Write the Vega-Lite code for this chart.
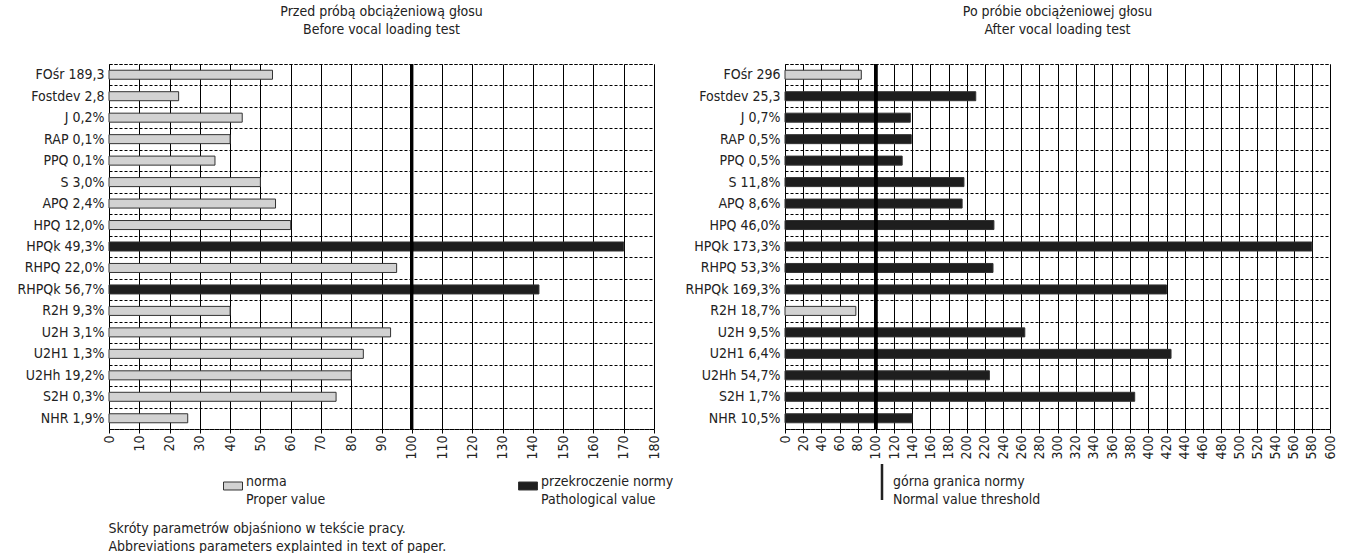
{
  "$schema": "https://vega.github.io/schema/vega-lite/v6.json",
  "background": "white",
  "padding": {"left": 16, "top": 4, "right": 5, "bottom": 5},
  "datasets": {
    "before": [
      {"param": "FOśr 189,3", "value": 54, "status": "norma"},
      {"param": "Fostdev 2,8", "value": 23, "status": "norma"},
      {"param": "J 0,2%", "value": 44, "status": "norma"},
      {"param": "RAP 0,1%", "value": 40, "status": "norma"},
      {"param": "PPQ 0,1%", "value": 35, "status": "norma"},
      {"param": "S 3,0%", "value": 50, "status": "norma"},
      {"param": "APQ 2,4%", "value": 55, "status": "norma"},
      {"param": "HPQ 12,0%", "value": 60, "status": "norma"},
      {"param": "HPQk 49,3%", "value": 170, "status": "przekroczenie normy"},
      {"param": "RHPQ 22,0%", "value": 95, "status": "norma"},
      {"param": "RHPQk 56,7%", "value": 142, "status": "przekroczenie normy"},
      {"param": "R2H 9,3%", "value": 40, "status": "norma"},
      {"param": "U2H 3,1%", "value": 93, "status": "norma"},
      {"param": "U2H1 1,3%", "value": 84, "status": "norma"},
      {"param": "U2Hh 19,2%", "value": 80, "status": "norma"},
      {"param": "S2H 0,3%", "value": 75, "status": "norma"},
      {"param": "NHR 1,9%", "value": 26, "status": "norma"}
    ],
    "after": [
      {"param": "FOśr 296", "value": 84, "status": "norma"},
      {"param": "Fostdev 25,3", "value": 210, "status": "przekroczenie normy"},
      {"param": "J 0,7%", "value": 138, "status": "przekroczenie normy"},
      {"param": "RAP 0,5%", "value": 139, "status": "przekroczenie normy"},
      {"param": "PPQ 0,5%", "value": 129, "status": "przekroczenie normy"},
      {"param": "S 11,8%", "value": 197, "status": "przekroczenie normy"},
      {"param": "APQ 8,6%", "value": 195, "status": "przekroczenie normy"},
      {"param": "HPQ 46,0%", "value": 230, "status": "przekroczenie normy"},
      {"param": "HPQk 173,3%", "value": 580, "status": "przekroczenie normy"},
      {"param": "RHPQ 53,3%", "value": 229, "status": "przekroczenie normy"},
      {"param": "RHPQk 169,3%", "value": 420, "status": "przekroczenie normy"},
      {"param": "R2H 18,7%", "value": 78, "status": "norma"},
      {"param": "U2H 9,5%", "value": 264, "status": "przekroczenie normy"},
      {"param": "U2H1 6,4%", "value": 425, "status": "przekroczenie normy"},
      {"param": "U2Hh 54,7%", "value": 225, "status": "przekroczenie normy"},
      {"param": "S2H 1,7%", "value": 385, "status": "przekroczenie normy"},
      {"param": "NHR 10,5%", "value": 140, "status": "przekroczenie normy"}
    ]
  },
  "config": {
    "font": "DejaVu Sans Condensed, Liberation Sans Narrow, Roboto",
    "view": {"stroke": "black", "strokeDash": [3, 2], "strokeWidth": 1},
    "axis": {
      "labelFont": "DejaVu Sans Condensed, Liberation Sans Narrow, Roboto",
      "labelFontSize": 14,
      "labelColor": "#222",
      "domain": false,
      "tickColor": "black",
      "gridColor": "black",
      "gridOpacity": 1,
      "title": null
    },
    "axisX": {
      "labelFontSize": 14,
      "labelAngle": -90,
      "labelOverlap": false,
      "labelFlush": false,
      "labelBound": false,
      "grid": true,
      "tickSize": 4,
      "labelPadding": 2
    },
    "legend": {
      "labelFont": "DejaVu Sans Condensed, Liberation Sans Narrow, Roboto",
      "labelFontSize": 14,
      "labelColor": "#222",
      "title": null
    },
    "title": {
      "font": "DejaVu Sans Condensed, Liberation Sans Narrow, Roboto",
      "fontSize": 14,
      "fontWeight": "normal",
      "color": "#222",
      "lineHeight": 18
    },
    "style": {"guide-label": {"lineHeight": 18}}
  },
  "title": {
    "text": ["Skróty parametrów objaśniono w tekście pracy.", "Abbreviations parameters explainted in text of paper."],
    "orient": "bottom",
    "anchor": "start",
    "dx": 92,
    "offset": 14
  },
  "spacing": 9,
  "resolve": {
    "scale": {"x": "independent", "y": "independent", "color": "independent", "opacity": "independent"},
    "legend": {"color": "independent", "opacity": "independent"},
    "axis": {"x": "independent", "y": "independent"}
  },
  "hconcat": [
    {
      "width": 545,
      "height": 365,
      "title": {"text": ["Przed próbą obciążeniową głosu", "Before vocal loading test"], "anchor": "middle", "offset": 20},
      "data": {"name": "before"},
      "layer": [
        {
          "mark": {"type": "bar", "height": {"band": 0.42}, "stroke": "#333", "strokeWidth": 1},
          "encoding": {
            "y": {
              "field": "param", "type": "nominal", "sort": null,
              "scale": {"paddingInner": 0, "paddingOuter": 0},
              "axis": {"grid": true, "tickBand": "extent", "gridDash": [3, 2], "ticks": false, "labelPadding": 5}
            },
            "x": {
              "field": "value", "type": "quantitative",
              "scale": {"domain": [0, 180], "nice": false},
              "axis": {"values": [0,10,20,30,40,50,60,70,80,90,100,110,120,130,140,150,160,170,180]}
            },
            "color": {
              "field": "status", "type": "nominal",
              "scale": {"domain": ["norma", "przekroczenie normy"], "range": ["#d2d2d2", "#1e1e1e"]},
              "legend": {
                "orient": "none", "legendX": 114, "legendY": 412,
                "direction": "horizontal", "columns": 2, "columnPadding": 190,
                "symbolType": "M-1,-0.42H1V0.42H-1Z", "symbolSize": 361,
                "symbolStrokeColor": "#333", "symbolStrokeWidth": 1,
                "labelBaseline": "alphabetic", "labelOffset": 3,
                "labelExpr": "datum.label == 'norma' ? ['norma', 'Proper value'] : ['przekroczenie normy', 'Pathological value']"
              }
            }
          }
        },
        {
          "mark": {"type": "rule", "color": "black", "strokeWidth": 2.5},
          "encoding": {
            "x": {"datum": 100, "axis": {"values": [0,10,20,30,40,50,60,70,80,90,100,110,120,130,140,150,160,170,180]}},
            "opacity": {"datum": "górna granica normy", "type": "nominal", "scale": {"range": [1]}, "legend": null}
          }
        }
      ]
    },
    {
      "width": 545,
      "height": 365,
      "title": {"text": ["Po próbie obciążeniowej głosu", "After vocal loading test"], "anchor": "middle", "offset": 20},
      "data": {"name": "after"},
      "layer": [
        {
          "mark": {"type": "bar", "height": {"band": 0.42}, "stroke": "#333", "strokeWidth": 1},
          "encoding": {
            "y": {
              "field": "param", "type": "nominal", "sort": null,
              "scale": {"paddingInner": 0, "paddingOuter": 0},
              "axis": {"grid": true, "tickBand": "extent", "gridDash": [3, 2], "ticks": false, "labelPadding": 5}
            },
            "x": {
              "field": "value", "type": "quantitative",
              "scale": {"domain": [0, 600], "nice": false},
              "axis": {"values": [0,20,40,60,80,100,120,140,160,180,200,220,240,260,280,300,320,340,360,380,400,420,440,460,480,500,520,540,560,580,600]}
            },
            "color": {
              "field": "status", "type": "nominal",
              "scale": {"domain": ["norma", "przekroczenie normy"], "range": ["#d2d2d2", "#1e1e1e"]},
              "legend": null
            }
          }
        },
        {
          "mark": {"type": "rule", "color": "black", "strokeWidth": 2.5},
          "encoding": {
            "x": {"datum": 100, "axis": {"values": [0,20,40,60,80,100,120,140,160,180,200,220,240,260,280,300,320,340,360,380,400,420,440,460,480,500,520,540,560,580,600]}},
            "opacity": {
              "datum": "górna granica normy", "type": "nominal", "scale": {"range": [1]},
              "legend": {
                "orient": "none", "legendX": 79, "legendY": 400,
                "symbolType": "M-0.07,-1H0.07V1H-0.07Z", "symbolSize": 1296,
                "symbolFillColor": "#222", "symbolStrokeColor": "#222", "symbolStrokeWidth": 0, "symbolOpacity": 1,
                "labelBaseline": "middle", "labelOffset": -7,
                "labelExpr": "['górna granica normy', 'Normal value threshold']"
              }
            }
          }
        }
      ]
    }
  ]
}
